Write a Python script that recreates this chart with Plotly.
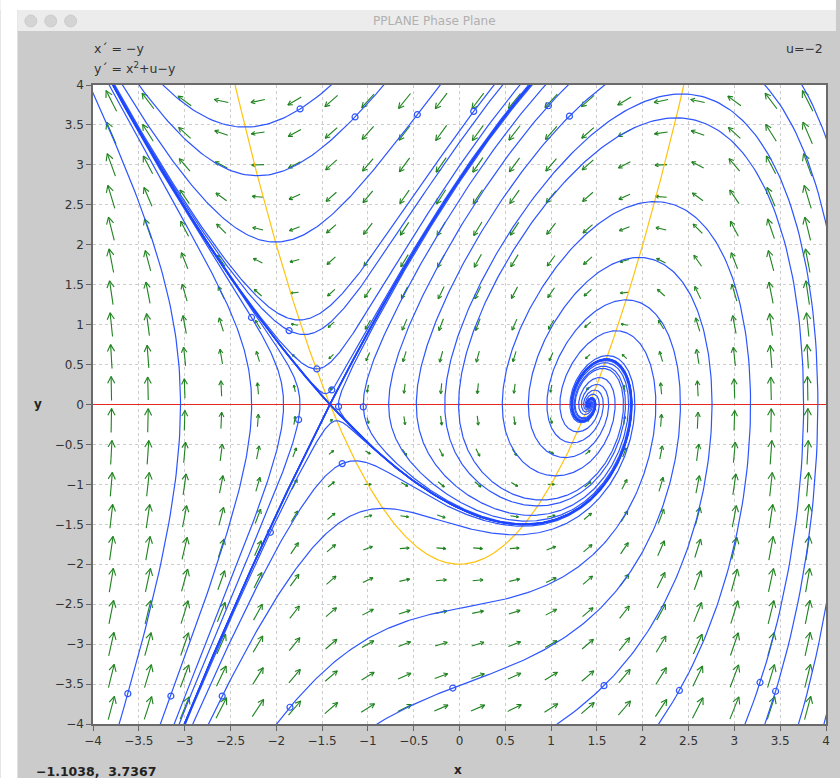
import math
import plotly.graph_objects as go

# ---------------- data ----------------
U_PARAM = -2.0
X_RANGE = [-4, 4]
Y_RANGE = [-4, 4]
TICKS = [-4, -3.5, -3, -2.5, -2, -1.5, -1, -0.5, 0, 0.5, 1, 1.5, 2, 2.5, 3, 3.5, 4]
TICK_TEXT = ["\u22124", "\u22123.5", "\u22123", "\u22122.5", "\u22122", "\u22121.5", "\u22121", "\u22120.5",
             "0", "0.5", "1", "1.5", "2", "2.5", "3", "3.5", "4"]
ARROW_X = [-3.8, -3.4, -3.0, -2.6, -2.2, -1.8, -1.4, -1.0, -0.6, -0.2,
           0.2, 0.6, 1.0, 1.4, 1.8, 2.2, 2.6, 3.0, 3.4, 3.8]
ARROW_Y = [-3.8, -3.4, -3.0, -2.6, -2.2, -1.8, -1.4, -1.0, -0.6, -0.2,
           0.2, 0.6, 1.0, 1.4, 1.8, 2.2, 2.6, 3.0, 3.4, 3.8]
# initial points of the solution curves (small circles)
START_X = [-1.74, -1.14, -0.46, 0.155, 0.97, 1.20,
           -2.27, -1.86, -1.557, -1.394, -1.32, -1.05, -1.756, -1.28, -2.064,
           -3.62, -3.15, -2.59, -1.85, -0.073, 1.577, 2.40, 3.28, 3.45]
START_Y = [3.70, 3.60, 3.63, 3.67, 3.74, 3.61,
           1.09, 0.925, 0.445, 0.183, -0.026, -0.03, -0.19, -0.74, -1.60,
           -3.62, -3.65, -3.65, -3.79, -3.55, -3.52, -3.58, -3.48, -3.59]
EQ_LABEL_1 = "x\u00b4 = \u2212y"
EQ_LABEL_2 = "y\u00b4 = x<sup>2</sup>+u\u2212y"
PARAM_LABEL = "u=\u22122"
CURSOR_LABEL = "\u22121.1038,  3.7367"
WINDOW_TITLE = "PPLANE Phase Plane"

# ---------------- geometry ----------------
W, H = 840, 778
PL, PR, PT, PB = 93, 830, 85, 724   # plot area pixel box
SX = (PR - PL) / 8.0
SY = (PB - PT) / 8.0
BLUE = "rgb(45,85,255)"


def px(xp):
    return (xp - PL) / (PR - PL)


def py(yp):
    return (PB - yp) / (PB - PT)


def field(x, y):
    return -y, x * x + U_PARAM - y


def integrate(x0, y0, sign, tmax, dt=0.01, box=5.0):
    xs, ys = [x0], [y0]
    x, y = x0, y0
    h = dt * sign
    fx, fy = math.sqrt(-U_PARAM), 0.0
    for _ in range(int(tmax / dt)):
        k1 = field(x, y)
        k2 = field(x + 0.5 * h * k1[0], y + 0.5 * h * k1[1])
        k3 = field(x + 0.5 * h * k2[0], y + 0.5 * h * k2[1])
        k4 = field(x + h * k3[0], y + h * k3[1])
        x += h / 6 * (k1[0] + 2 * k2[0] + 2 * k3[0] + k4[0])
        y += h / 6 * (k1[1] + 2 * k2[1] + 2 * k3[1] + k4[1])
        xs.append(round(x, 4))
        ys.append(round(y, 4))
        if abs(x) > box or abs(y) > box:
            break
        if (x - fx) ** 2 + (y - fy) ** 2 < 1e-6:
            break
    return xs, ys


traj_x, traj_y = [], []
for x0, y0 in zip(START_X, START_Y):
    bx, by = integrate(x0, y0, -1, 30)
    fxs, fys = integrate(x0, y0, 1, 40)
    traj_x += bx[::-1] + fxs[1:] + [None]
    traj_y += by[::-1] + fys[1:] + [None]

# separatrices of the saddle
x_s = -math.sqrt(-U_PARAM)
a = 2 * x_s
lam_u = (-1 + math.sqrt(1 + 4 * (-a))) / 2
lam_s = (-1 - math.sqrt(1 + 4 * (-a))) / 2
sep_x, sep_y = [], []
for lam, sign, tmax in [(lam_s, -1, 10), (lam_u, 1, 40)]:
    n = math.hypot(1, lam)
    vx, vy = 1 / n, -lam / n
    for s in (1, -1):
        for eps in (1e-4, 3e-3, 8e-3):
            xs_, ys_ = integrate(x_s + s * eps * vx, s * eps * vy, sign, tmax)
            sep_x += xs_ + [None]
            sep_y += ys_ + [None]

# direction field arrows
ar_x, ar_y = [], []
LMAX = 24.0
for gx in ARROW_X:
    for gy in ARROW_Y:
        u, v = field(gx, gy)
        m = math.hypot(u, v)
        if m < 1e-9:
            continue
        L = LMAX * min(1.0, (m / 10.0) ** 0.55)
        pxv, pyv = u * SX, v * SY
        pn = math.hypot(pxv, pyv)
        ux, uy = pxv / pn, pyv / pn  # unit in pixel space (y up)
        tx, ty = gx + 0.5 * L * ux / SX, gy + 0.5 * L * uy / SY
        bx_, by_ = gx - 0.5 * L * ux / SX, gy - 0.5 * L * uy / SY
        ar_x += [bx_, tx, None]
        ar_y += [by_, ty, None]
        hl = max(2.5, 0.32 * L)
        for ang in (math.radians(152), math.radians(-152)):
            cx = ux * math.cos(ang) - uy * math.sin(ang)
            cy = ux * math.sin(ang) + uy * math.cos(ang)
            ar_x += [tx, tx + hl * cx / SX, None]
            ar_y += [ty, ty + hl * cy / SY, None]

# nullcline y' = 0
nc_x = [i / 200.0 for i in range(-520, 521)]
nc_y = [xx * xx + U_PARAM for xx in nc_x]

fig = go.Figure()
fig.add_trace(go.Scatter(x=ar_x, y=ar_y, mode="lines",
                         line=dict(color="rgb(30,130,30)", width=1.1), hoverinfo="skip"))
fig.add_trace(go.Scatter(x=nc_x, y=nc_y, mode="lines",
                         line=dict(color="#ffc20e", width=1.2), hoverinfo="skip"))
fig.add_trace(go.Scatter(x=traj_x, y=traj_y, mode="lines",
                         line=dict(color=BLUE, width=1.2), hoverinfo="skip"))
fig.add_trace(go.Scatter(x=sep_x, y=sep_y, mode="lines",
                         line=dict(color="rgb(30,70,255)", width=1.6), hoverinfo="skip"))
fig.add_trace(go.Scatter(x=START_X, y=START_Y, mode="markers",
                         marker=dict(symbol="circle-open", size=6, color=BLUE,
                                     line=dict(color=BLUE, width=1.2)),
                         hoverinfo="skip"))

FONT = "DejaVu Sans"
axis_common = dict(range=X_RANGE, tickvals=TICKS, ticktext=TICK_TEXT, ticks="outside",
                   ticklen=5, tickcolor="#666", showline=True, linecolor="#6a6a6a",
                   linewidth=1.5, mirror=True, showgrid=True, gridcolor="#cdcdcd",
                   griddash="dot", gridwidth=1,
                   tickfont=dict(family=FONT, size=12, color="#333"))
fig.update_xaxes(**axis_common, zeroline=False)
fig.update_yaxes(**{**axis_common, "range": Y_RANGE}, zeroline=True,
                 zerolinecolor="#e8281e", zerolinewidth=1)

shapes = [
    dict(type="rect", xref="paper", yref="paper", x0=px(0), x1=px(W), y0=py(10), y1=py(0),
         fillcolor="white", line=dict(width=0), layer="below"),
    dict(type="rect", xref="paper", yref="paper", x0=px(0), x1=px(17), y0=py(H), y1=py(0),
         fillcolor="white", line=dict(width=0), layer="below"),
    dict(type="rect", xref="paper", yref="paper", x0=px(17), x1=px(W), y0=py(31), y1=py(10),
         fillcolor="#ececec", line=dict(width=0), layer="below"),
]
for cxp in (30.5, 50.5, 70.5):
    shapes.append(dict(type="circle", xref="paper", yref="paper",
                       x0=px(cxp - 6), x1=px(cxp + 6), y0=py(21 + 6), y1=py(21 - 6),
                       fillcolor="#d4d4d4", line=dict(color="#c6c6c6", width=0.8), layer="below"))

ann = [
    dict(text=WINDOW_TITLE, x=px(436), y=py(21), font=dict(family=FONT, size=12, color="#b0b0b0")),
    dict(text=EQ_LABEL_1, x=px(92), y=py(48), xanchor="left", font=dict(family=FONT, size=12.5, color="#333")),
    dict(text=EQ_LABEL_2, x=px(92), y=py(68), xanchor="left", font=dict(family=FONT, size=12.5, color="#333")),
    dict(text=PARAM_LABEL, x=px(829), y=py(48), xanchor="right", font=dict(family=FONT, size=12.5, color="#333")),
    dict(text="<b>y</b>", x=px(38), y=py(404), font=dict(family=FONT, size=12, color="#222")),
    dict(text="<b>x</b>", x=px(460), y=py(770), font=dict(family=FONT, size=12, color="#222")),
    dict(text="<b>" + CURSOR_LABEL + "</b>", x=px(34), y=py(771), xanchor="left",
         font=dict(family=FONT, size=12.5, color="#222")),
]
for a_ in ann:
    a_.update(xref="paper", yref="paper", showarrow=False)
    a_.setdefault("xanchor", "center")
    a_["yanchor"] = "middle"

fig.update_layout(width=W, height=H, margin=dict(l=PL, r=W - PR, t=PT, b=H - PB, pad=0),
                  paper_bgcolor="#cbcbcb", plot_bgcolor="white", showlegend=False,
                  shapes=shapes, annotations=ann)
fig.write_html("out.html")
